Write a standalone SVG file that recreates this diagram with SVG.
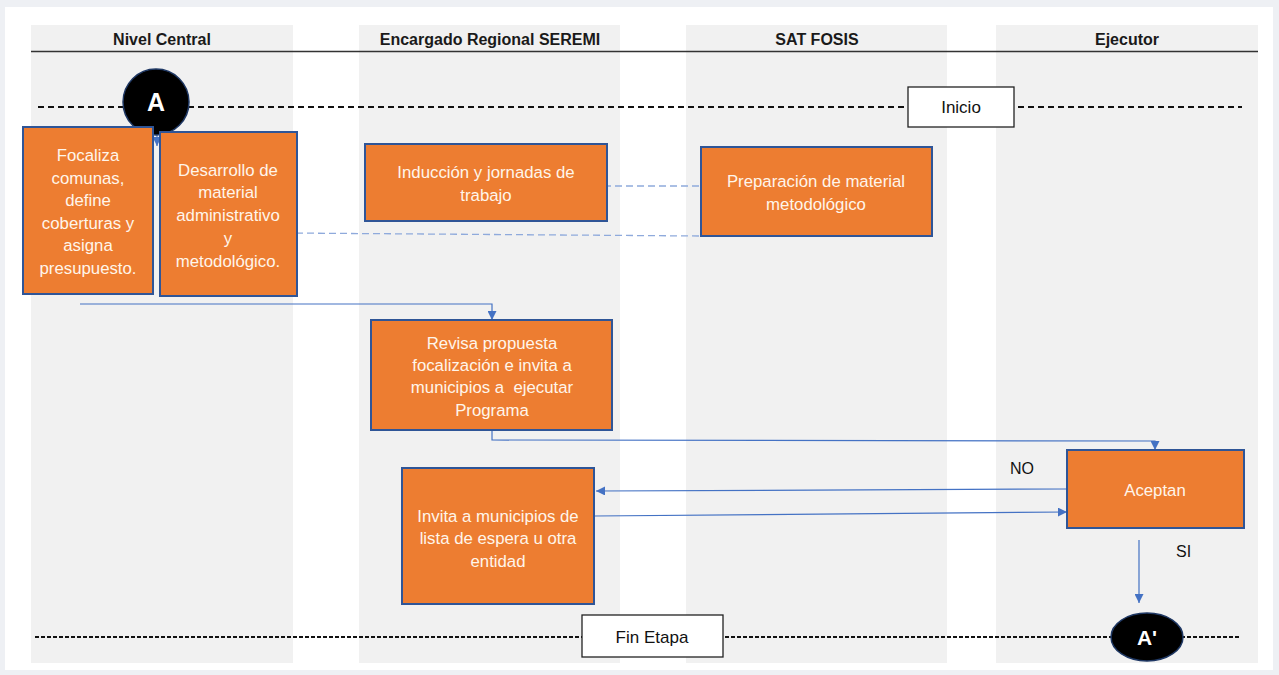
<svg xmlns="http://www.w3.org/2000/svg" width="1279" height="675" viewBox="0 0 1279 675">
<style>
.lane{fill:#f1f1f1}
.hdr{font-family:"Liberation Sans",Arial,sans-serif;font-size:16px;font-weight:bold;fill:#1a1a1a;text-anchor:middle}
.box{fill:#ed7d31;stroke:#2f5597;stroke-width:2}
.bt{font-family:"Liberation Sans",Arial,sans-serif;font-size:16.8px;fill:#fff5ea;text-anchor:middle}
.wb{fill:#fff;stroke:#222;stroke-width:1.3}
.wt{font-family:"Liberation Sans",Arial,sans-serif;font-size:17px;fill:#111;text-anchor:middle}
.conn{fill:none;stroke:#4472c4;stroke-width:1.2}
.dconn{fill:none;stroke:#8faadc;stroke-width:1.3;stroke-dasharray:7 4}
.lbl{font-family:"Liberation Sans",Arial,sans-serif;font-size:16px;fill:#111}
</style>
<defs>
<marker id="ah" viewBox="0 0 10 10" refX="10" refY="5" markerWidth="9" markerHeight="9" markerUnits="userSpaceOnUse" orient="auto">
<path d="M0,0 L10,5 L0,10 z" fill="#4472c4"/>
</marker>
</defs>
<rect x="0" y="0" width="1279" height="675" fill="#eef0f4"/>
<rect x="5" y="7" width="1268" height="663" fill="#ffffff"/>
<g id="lanes">
<rect class="lane" x="31" y="25" width="262" height="638"/>
<rect class="lane" x="359" y="25" width="261" height="638"/>
<rect class="lane" x="686" y="25" width="261" height="638"/>
<rect class="lane" x="996" y="25" width="262" height="638"/>
<text class="hdr" x="162" y="45">Nivel Central</text>
<text class="hdr" x="490" y="45">Encargado Regional SEREMI</text>
<text class="hdr" x="817" y="45">SAT FOSIS</text>
<text class="hdr" x="1127" y="45">Ejecutor</text>
<line x1="31" y1="51.5" x2="1258" y2="51.5" stroke="#333" stroke-width="1.3"/>
<line x1="38" y1="107" x2="1242" y2="107" stroke="#111" stroke-width="2" stroke-dasharray="6 4"/>
<line x1="35" y1="637" x2="1240" y2="637" stroke="#111" stroke-width="2" stroke-dasharray="4 2"/>
</g>
<g id="connectors">
<line class="conn" x1="157" y1="132" x2="157" y2="146" marker-end="url(#ah)"/>
<line class="dconn" x1="604" y1="186" x2="701" y2="186"/>
<line class="dconn" x1="285" y1="233" x2="701" y2="236"/>
<path class="conn" d="M80,304 H492 V320" marker-end="url(#ah)"/>
<path class="conn" d="M492,430 V440 L1155,441 V450" marker-end="url(#ah)"/>
<line class="conn" x1="1067" y1="489" x2="596" y2="491" marker-end="url(#ah)"/>
<line class="conn" x1="594" y1="516" x2="1067" y2="512" marker-end="url(#ah)"/>
<line class="conn" x1="1139" y1="540" x2="1139" y2="603" marker-end="url(#ah)"/>
<text class="lbl" x="1010" y="474">NO</text>
<text class="lbl" x="1176" y="557">SI</text>
</g>
<g id="nodeA">
<circle cx="156" cy="102" r="33" fill="#000" stroke="#1f3864" stroke-width="1.5"/>
<text x="156" y="111" font-family="Liberation Sans,Arial,sans-serif" font-size="25" font-weight="bold" fill="#fff" text-anchor="middle">A</text>
</g>
<g id="inicio">
<rect class="wb" x="908" y="87" width="106" height="40"/>
<text class="wt" x="961" y="113">Inicio</text>
</g>
<g id="focaliza">
<rect class="box" x="23" y="127" width="130" height="167"/>
<text class="bt" x="88" y="161">Focaliza</text>
<text class="bt" x="88" y="184">comunas,</text>
<text class="bt" x="88" y="206">define</text>
<text class="bt" x="88" y="229">coberturas y</text>
<text class="bt" x="88" y="251">asigna</text>
<text class="bt" x="88" y="274">presupuesto.</text>
</g>
<g id="desarrollo">
<rect class="box" x="160" y="132" width="137" height="164"/>
<text class="bt" x="228" y="176">Desarrollo de</text>
<text class="bt" x="228" y="198">material</text>
<text class="bt" x="228" y="221">administrativo</text>
<text class="bt" x="228" y="244">y</text>
<text class="bt" x="228" y="267">metodológico.</text>
</g>
<g id="induccion">
<rect class="box" x="365" y="144" width="242" height="77"/>
<text class="bt" x="486" y="178">Inducción y jornadas de</text>
<text class="bt" x="486" y="201">trabajo</text>
</g>
<g id="preparacion">
<rect class="box" x="701" y="147" width="231" height="89"/>
<text class="bt" x="816" y="187">Preparación de material</text>
<text class="bt" x="816" y="210">metodológico</text>
</g>
<g id="revisa">
<rect class="box" x="371" y="320" width="241" height="110"/>
<text class="bt" x="492" y="349">Revisa propuesta</text>
<text class="bt" x="492" y="371">focalización e invita a</text>
<text class="bt" x="492" y="393" xml:space="preserve">municipios a  ejecutar</text>
<text class="bt" x="492" y="416">Programa</text>
</g>
<g id="aceptan">
<rect class="box" x="1067" y="450" width="177" height="78"/>
<text class="bt" x="1155" y="496">Aceptan</text>
</g>
<g id="invita">
<rect class="box" x="402" y="468" width="192" height="136"/>
<text class="bt" x="498" y="522">Invita a municipios de</text>
<text class="bt" x="498" y="544">lista de espera u otra</text>
<text class="bt" x="498" y="567">entidad</text>
</g>
<g id="finEtapa">
<rect class="wb" x="582" y="615" width="141" height="42"/>
<text class="wt" x="652" y="643">Fin Etapa</text>
</g>
<g id="nodeAprime">
<ellipse cx="1147" cy="637" rx="36" ry="24" fill="#000" stroke="#1f3864" stroke-width="1.5"/>
<text x="1147" y="645" font-family="Liberation Sans,Arial,sans-serif" font-size="21" font-weight="bold" fill="#fff" text-anchor="middle">A'</text>
</g>
</svg>
